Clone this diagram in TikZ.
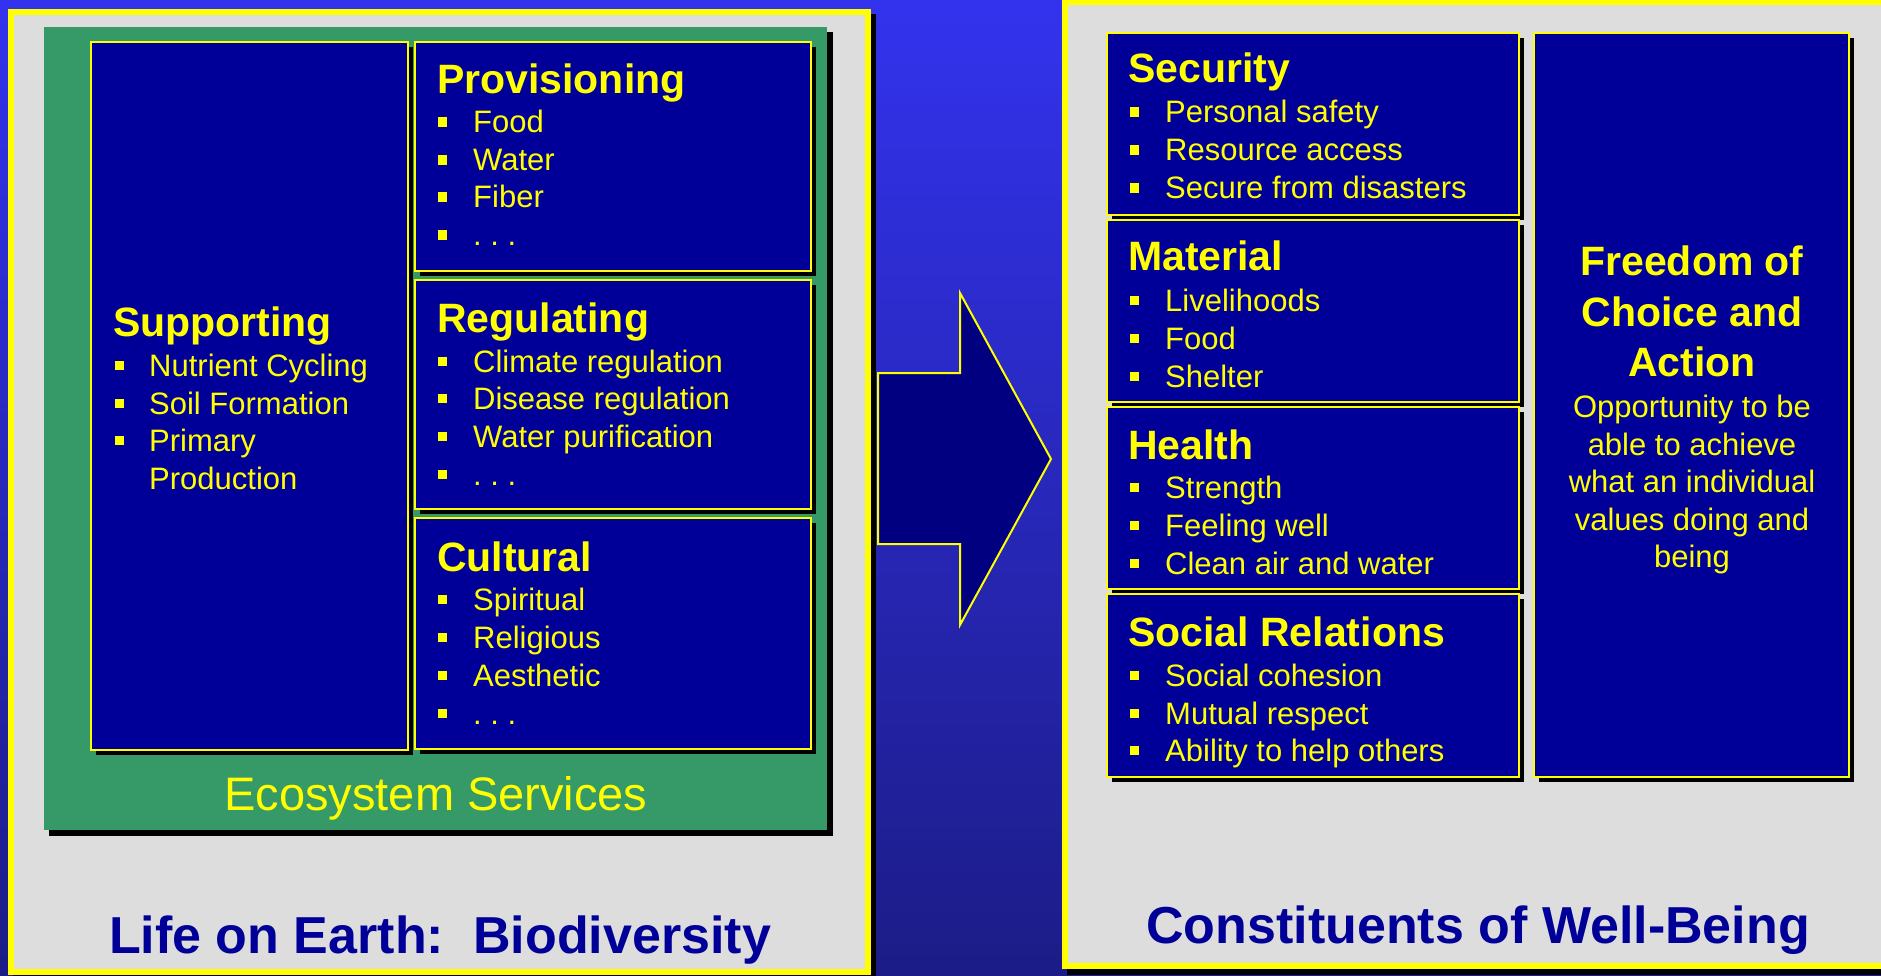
\documentclass[tikz,border=0pt]{standalone}
\usepackage{fontspec}
\setmainfont{Liberation Sans}
\definecolor{bgtop}{RGB}{51,51,238}
\definecolor{bgbot}{RGB}{28,28,135}
\definecolor{panelgray}{RGB}{221,221,221}
\definecolor{esgreen}{RGB}{54,153,104}
\definecolor{boxblue}{RGB}{0,0,153}
\definecolor{arrownavy}{RGB}{0,0,128}
\definecolor{titleblue}{RGB}{0,0,153}
\definecolor{ylw}{RGB}{255,255,0}
\tikzset{
  shadowfill/.style={fill=black, draw=none},
  panel/.style={fill=panelgray, draw=ylw, line width=6pt},
  bluebox/.style={fill=boxblue, draw=ylw, line width=2pt},
  head/.style={anchor=base west, inner sep=0pt, text=ylw, font=\bfseries\fontsize{41}{41}\selectfont},
  item/.style={anchor=base west, inner sep=0pt, text=ylw, font=\fontsize{31}{31}\selectfont},
  chead/.style={anchor=base, inner sep=0pt, text=ylw, font=\bfseries\fontsize{41}{41}\selectfont},
  citem/.style={anchor=base, inner sep=0pt, text=ylw, font=\fontsize{31}{31}\selectfont},
  titletext/.style={anchor=base, inner sep=0pt, text=titleblue, font=\bfseries\fontsize{52}{52}\selectfont},
  bulletsq/.style={fill=ylw, draw=none},
}
% box with shadow: name, x1, y1, x2, y2
\newcommand\mybox[5]{%
  \fill[shadowfill] (#2+5,#3+5) rectangle (#4+5,#5+5);
  \draw[bluebox] (#2,#3) rectangle (#4,#5);
  \coordinate (#1) at (#2,#3);}
% bullet item: name, bullet x, text x, baseline, text
\newcommand\myitem[5]{%
  \fill[bulletsq] (#2,#4-15.5) rectangle (#2+9,#4-6);
  \node[item] (#1) at (#3,#4) {#5};}
\begin{document}
\begin{tikzpicture}[x=1pt,y=-1pt]
\useasboundingbox (0,0) rectangle (1881,976);
\clip (0,0) rectangle (1881,976);
% background
\shade[top color=bgtop, bottom color=bgbot] (0,0) rectangle (1881,976);

% ---------- left panel ----------
\fill[shadowfill] (13,14) rectangle (876,990);
\draw[panel] (11,12) rectangle (868,972);
\fill[shadowfill] (49,32) rectangle (833,836);
\fill[esgreen] (44,27) rectangle (827,830);

% Supporting
\mybox{supbox}{91}{42}{408}{750}
\node[head] (sup) at (113,336) {Supporting};
\myitem{sup1}{115}{149}{376}{Nutrient Cycling}
\myitem{sup2}{115}{149}{414}{Soil Formation}
\myitem{sup3}{115}{149}{451}{Primary}
\node[item] (sup4) at (149,489) {Production};

% Provisioning
\mybox{provbox}{415}{42}{811}{271}
\node[head] (prov) at (437,94) {Provisioning};
\myitem{prov1}{438}{473}{133}{Food}
\myitem{prov2}{438}{473}{171}{Water}
\myitem{prov3}{438}{473}{208}{Fiber}
\myitem{prov4}{438}{473}{246}{.\ .\ .}

% Regulating
\mybox{regbox}{415}{280}{811}{509}
\node[head] (reg) at (437,332) {Regulating};
\myitem{reg1}{438}{473}{372}{Climate regulation}
\myitem{reg2}{438}{473}{409}{Disease regulation}
\myitem{reg3}{438}{473}{447}{Water purification}
\myitem{reg4}{438}{473}{485}{.\ .\ .}

% Cultural
\mybox{culbox}{415}{518}{811}{749}
\node[head] (cul) at (437,571) {Cultural};
\myitem{cul1}{438}{473}{610}{Spiritual}
\myitem{cul2}{438}{473}{648}{Religious}
\myitem{cul3}{438}{473}{686}{Aesthetic}
\myitem{cul4}{438}{473}{724}{.\ .\ .}

\node[anchor=base, inner sep=0pt, text=ylw, font=\fontsize{47}{47}\selectfont] (es) at (436,810) {Ecosystem Services};
\node[titletext] (life) at (440,953) {Life on Earth:\hspace{0.56em}Biodiversity};

% ---------- arrow ----------
\draw[fill=arrownavy, draw=ylw, line width=2pt, line join=miter]
  (878,373) -- (960,373) -- (960,293) -- (1051,459) -- (960,625) -- (960,544) -- (878,544) -- cycle;

% ---------- right panel ----------
\fill[shadowfill] (1067,5) rectangle (1900,975);
\draw[panel] (1064.5,2) rectangle (1895,966);

% Security
\mybox{secbox}{1107}{33}{1519}{215}
\node[head] (sec) at (1128,83) {Security};
\myitem{sec1}{1130}{1165}{123}{Personal safety}
\myitem{sec2}{1130}{1165}{161}{Resource access}
\myitem{sec3}{1130}{1165}{199}{Secure from disasters}

% Material
\mybox{matbox}{1107}{220}{1519}{402}
\node[head] (mat) at (1128,271) {Material};
\myitem{mat1}{1130}{1165}{311}{Livelihoods}
\myitem{mat2}{1130}{1165}{349}{Food}
\myitem{mat3}{1130}{1165}{387}{Shelter}

% Health
\mybox{heabox}{1107}{407}{1519}{589}
\node[head] (hea) at (1128,459) {Health};
\myitem{hea1}{1130}{1165}{498}{Strength}
\myitem{hea2}{1130}{1165}{536}{Feeling well}
\myitem{hea3}{1130}{1165}{574}{Clean air and water}

% Social Relations
\mybox{socbox}{1107}{594}{1519}{777}
\node[head] (soc) at (1128,646) {Social Relations};
\myitem{soc1}{1130}{1165}{686}{Social cohesion}
\myitem{soc2}{1130}{1165}{724}{Mutual respect}
\myitem{soc3}{1130}{1165}{761}{Ability to help others}

% Freedom
\mybox{frebox}{1534}{33}{1849}{777}
\node[chead] (fre1) at (1692,276) {Freedom of};
\node[chead] (fre2) at (1692,326) {Choice and};
\node[chead] (fre3) at (1692,376) {Action};
\node[citem] (fre4) at (1692,417) {Opportunity to be};
\node[citem] (fre5) at (1692,455) {able to achieve};
\node[citem] (fre6) at (1692,492) {what an individual};
\node[citem] (fre7) at (1692,530) {values doing and};
\node[citem] (fre8) at (1692,567) {being};

\node[titletext] (cwb) at (1478,943) {Constituents of Well-Being};
\end{tikzpicture}
\end{document}
